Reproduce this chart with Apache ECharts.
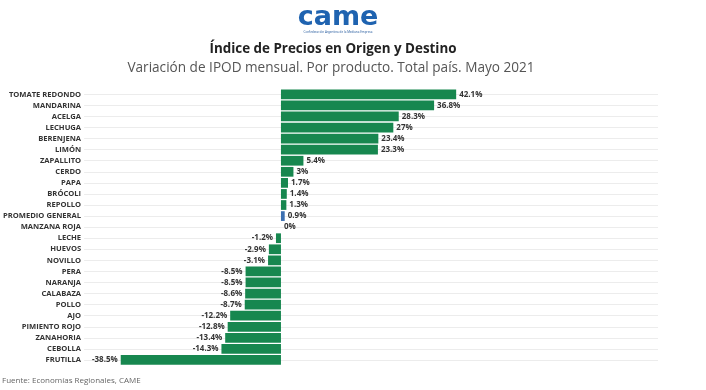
<!DOCTYPE html>
<html><head><meta charset="utf-8">
<script src="https://cdn.jsdelivr.net/npm/echarts@6/dist/echarts.min.js"></script>
<style>html,body{margin:0;padding:0;background:#fff}#c{width:706px;height:390px}</style>
</head><body><div id="c"></div>
<script>
const categories = ["TOMATE REDONDO","MANDARINA","ACELGA","LECHUGA","BERENJENA","LIMÓN","ZAPALLITO","CERDO","PAPA","BRÓCOLI","REPOLLO","PROMEDIO GENERAL","MANZANA ROJA","LECHE","HUEVOS","NOVILLO","PERA","NARANJA","CALABAZA","POLLO","AJO","PIMIENTO ROJO","ZANAHORIA","CEBOLLA","FRUTILLA"];
const values = [42.1,36.8,28.3,27,23.4,23.3,5.4,3,1.7,1.4,1.3,0.9,0,-1.2,-2.9,-3.1,-8.5,-8.5,-8.6,-8.7,-12.2,-12.8,-13.4,-14.3,-38.5];
const highlight = "PROMEDIO GENERAL";

const GREEN = '#17874f', BLUE = '#3b6fb1';
const data = values.map((v, i) => ({
  value: v,
  itemStyle: { color: categories[i] === highlight ? BLUE : GREEN },
  label: { position: v < 0 ? 'left' : 'right' }
}));

const chart = echarts.init(document.getElementById('c'), null, {renderer: 'canvas'});
chart.setOption({
  animation: false,
  backgroundColor: '#fff',
  graphic: [
    { type: 'text', x: 338, y: 4, style: { text: 'came', align: 'center', fill: '#1f63b0', font: 'bold 27px "DejaVu Sans"' } },
    { type: 'text', x: 338, y: 31, style: { text: 'Confederación Argentina de la Mediana Empresa', align: 'center', fill: '#2b5fa0', font: '3px "Noto Sans"' } },
    { type: 'text', x: 333, y: 43, style: { text: 'Índice de Precios en Origen y Destino', align: 'center', fill: '#222', font: 'bold 13.4px "Open Sans"' } },
    { type: 'text', x: 331, y: 61, style: { text: 'Variación de IPOD mensual. Por producto. Total país. Mayo 2021', align: 'center', fill: '#555', font: '13.6px "Open Sans"' } },
    { type: 'text', x: 2, y: 377, style: { text: 'Fuente: Economías Regionales, CAME', fill: '#666', font: '8px "Open Sans"' } }
  ],
  grid: { left: 80, right: 48, top: 88.8, bottom: 24.5, containLabel: false },
  xAxis: {
    type: 'value', min: -47.3, max: 90.6,
    show: false
  },
  yAxis: {
    type: 'category', data: categories, inverse: true,
    axisLine: { show: false }, axisTick: { show: false },
    axisLabel: { margin: 3, color: '#333', fontSize: 7.6, fontWeight: 'bold', fontFamily: '"Open Sans"' },
    splitLine: { show: true, alignWithLabel: true, lineStyle: { color: '#ececec', width: 1 } }
  },
  series: [{
    type: 'bar', data: data, barCategoryGap: '12%',
    label: { show: true, distance: 3, formatter: p => p.value + '%', color: '#333', fontSize: 8, fontWeight: 'bold', fontFamily: '"Open Sans"' }
  }]
});
</script></body></html>
